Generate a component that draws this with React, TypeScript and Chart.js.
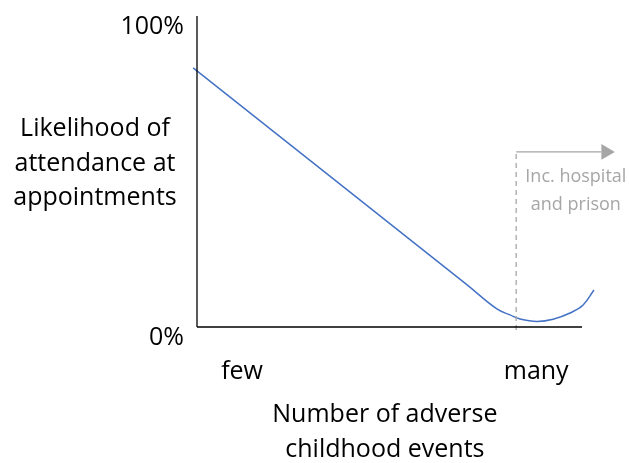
import React, { useEffect, useRef } from "react";
import { Chart, registerables } from "chart.js";

Chart.register(...registerables);

// Curve: likelihood of attendance (%) vs number of adverse events (axis runs 0..100)
const curveX = [-1.0, 70.0, 77.9, 81.3, 83.9, 88.3, 92.5, 96.9, 100.3, 103.1];
const curveY = [83.3, 13.7, 5.8, 3.9, 2.6, 1.8, 2.5, 4.5, 7.1, 11.9];

const yTickValues = [0, 100];
const yTickLabels = ["0%", "100%"];
const xTickValues = [11.7, 88.1];
const xTickLabels = ["few", "many"];

const yTitleLines = ["Likelihood of", "attendance at", "appointments"];
const xTitleLines = ["Number of adverse", "childhood events"];
const noteLines = ["Inc. hospital", "and prison"];

const thresholdX = 82.9;
const thresholdTop = 56.3;
const arrowEndX = 105.0;
const arrowHeadX = 106.2;

const FONT = "'Open Sans', 'Noto Sans', sans-serif";

const textPlugin = {
  id: "textLabels",
  afterDraw(chart: any) {
    const { ctx, scales } = chart;
    const xs = scales.x;
    const ys = scales.y;
    const axisX = xs.getPixelForValue(0);
    const axisY = ys.getPixelForValue(0);
    ctx.save();
    ctx.fillStyle = "#000";
    ctx.textBaseline = "middle";
    ctx.font = `25px ${FONT}`;
    ctx.textAlign = "right";
    yTickValues.forEach((v, i) => {
      ctx.fillText(yTickLabels[i], axisX - 13, ys.getPixelForValue(v) + 11);
    });
    ctx.textAlign = "center";
    xTickValues.forEach((v, i) => {
      ctx.fillText(xTickLabels[i], xs.getPixelForValue(v), axisY + 45);
    });
    yTitleLines.forEach((t, i) => {
      ctx.fillText(t, axisX - 102, 129 + i * 34.5);
    });
    const xTitleCenter = xs.getPixelForValue(48.8);
    xTitleLines.forEach((t, i) => {
      ctx.fillText(t, xTitleCenter, axisY + 88 + i * 35);
    });
    ctx.fillStyle = "#A6A6A6";
    ctx.font = `18px ${FONT}`;
    const noteCenter = xs.getPixelForValue(98.4);
    noteLines.forEach((t, i) => {
      ctx.fillText(t, noteCenter, ys.getPixelForValue(thresholdTop) + 25 + i * 28);
    });
    ctx.restore();
  },
};

export default function App() {
  const canvasRef = useRef<HTMLCanvasElement | null>(null);

  useEffect(() => {
    if (!canvasRef.current) return;
    const chart = new Chart(canvasRef.current, {
      type: "line",
      data: {
        datasets: [
          {
            label: "axis-y",
            data: [
              { x: 0, y: 0 },
              { x: 0, y: 100 },
            ],
            borderColor: "#000",
            borderWidth: 1.3,
            pointRadius: 0,
            clip: false,
          },
          {
            label: "axis-x",
            data: [
              { x: 0, y: 0 },
              { x: 100, y: 0 },
            ],
            borderColor: "#000",
            borderWidth: 1.3,
            pointRadius: 0,
            clip: false,
          },
          {
            label: "threshold",
            data: [
              { x: thresholdX, y: -1 },
              { x: thresholdX, y: thresholdTop },
              { x: arrowEndX, y: thresholdTop },
            ],
            borderColor: "#A6A6A6",
            borderWidth: 1.3,
            pointRadius: 0,
            clip: false,
            segment: {
              borderDash: (ctx: any) => (ctx.p0DataIndex === 1 ? [] : [5, 4]),
            },
          },
          {
            label: "arrowhead",
            data: [{ x: arrowHeadX, y: thresholdTop }],
            showLine: false,
            pointStyle: "triangle",
            rotation: 90,
            pointRadius: 9,
            pointBackgroundColor: "#A6A6A6",
            pointBorderColor: "#A6A6A6",
            pointBorderWidth: 0,
            clip: false,
          },
          {
            label: "attendance",
            data: curveX.map((x, i) => ({ x, y: curveY[i] })),
            borderColor: "#4472C4",
            borderWidth: 1.5,
            pointRadius: 0,
            tension: 0.4,
            clip: false,
          },
        ],
      },
      options: {
        animation: false,
        responsive: false,
        layout: {
          autoPadding: false,
          padding: { left: 197, right: 8.5, top: 16, bottom: 136 },
        },
        plugins: {
          legend: { display: false },
          tooltip: { enabled: false },
        },
        scales: {
          x: { type: "linear", min: 0, max: 110, display: false },
          y: { type: "linear", min: 0, max: 100, display: false },
        },
      },
      plugins: [textPlugin],
    });
    return () => chart.destroy();
  }, []);

  return (
    <div style={{ position: "fixed", left: 0, top: 0, width: 629, height: 463 }}>
      <canvas ref={canvasRef} width={629} height={463} style={{ display: "block" }} />
    </div>
  );
}
